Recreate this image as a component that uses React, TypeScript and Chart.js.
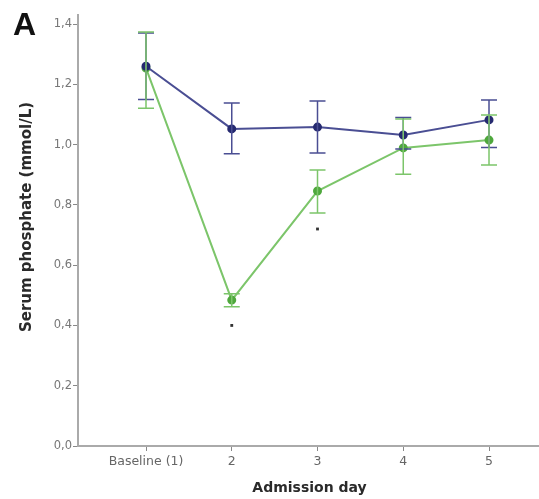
import React, { useEffect, useRef } from "react";
import { Chart, registerables } from "chart.js";

Chart.register(...registerables);

const categories = ["Baseline (1)", "2", "3", "4", "5"];
const days = [1, 2, 3, 4, 5];
const yTicks = [0, 0.2, 0.4, 0.6, 0.8, 1.0, 1.2, 1.4];

const blueMean = [1.26, 1.052, 1.058, 1.032, 1.082];
const blueLow = [1.15, 0.97, 0.972, 0.985, 0.99];
const blueHigh = [1.37, 1.138, 1.145, 1.09, 1.148];

const greenMean = [1.254, 0.484, 0.846, 0.989, 1.015];
const greenLow = [1.121, 0.462, 0.773, 0.902, 0.932];
const greenHigh = [1.374, 0.505, 0.916, 1.085, 1.098];

const sigDays = [2, 3];
const sigValues = [0.4, 0.72];

const yTitle = "Serum phosphate (mmol/L)";
const xTitle = "Admission day";

const BLUE_LINE = "#4a4e93";
const BLUE_PT = "#262a70";
const GREEN_LINE = "#7cc56a";
const GREEN_PT = "#4fa83d";

const errorBarPlugin = {
  id: "errorBars",
  afterDatasetsDraw(chart: any) {
    const { ctx, scales } = chart;
    const x = scales.x;
    const y = scales.y;
    const sets = [
      { low: blueLow, high: blueHigh, color: BLUE_LINE },
      { low: greenLow, high: greenHigh, color: GREEN_LINE },
    ];
    ctx.save();
    ctx.lineWidth = 1.5;
    sets.forEach((s) => {
      ctx.strokeStyle = s.color;
      days.forEach((d, i) => {
        const px = x.getPixelForValue(d);
        const top = y.getPixelForValue(s.high[i]);
        const bot = y.getPixelForValue(s.low[i]);
        ctx.beginPath();
        ctx.moveTo(px, top);
        ctx.lineTo(px, bot);
        ctx.moveTo(px - 8, top);
        ctx.lineTo(px + 8, top);
        ctx.moveTo(px - 8, bot);
        ctx.lineTo(px + 8, bot);
        ctx.stroke();
      });
    });
    ctx.restore();
  },
};

const titlesPlugin = {
  id: "axisTitles",
  afterDraw(chart: any) {
    const { ctx, chartArea } = chart;
    ctx.save();
    ctx.fillStyle = "#2a2a2a";
    ctx.textAlign = "center";
    ctx.textBaseline = "middle";
    ctx.font = "bold 14px 'DejaVu Sans'";
    ctx.fillText(xTitle, (chartArea.left + chartArea.right) / 2 + 1, 488);
    ctx.translate(27, 217);
    ctx.rotate(-Math.PI / 2);
    ctx.font = "bold 15px 'DejaVu Sans'";
    ctx.fillText(yTitle, 0, 0);
    ctx.restore();
  },
};

export default function App() {
  const ref = useRef<HTMLCanvasElement | null>(null);

  useEffect(() => {
    document.body.style.margin = "0";
    const canvas = ref.current;
    if (!canvas) return;
    const chart = new Chart(canvas, {
      type: "line",
      data: {
        datasets: [
          {
            label: "Group 1",
            data: days.map((d, i) => ({ x: d, y: blueMean[i] })),
            borderColor: BLUE_LINE,
            backgroundColor: BLUE_PT,
            pointBackgroundColor: BLUE_PT,
            pointBorderColor: BLUE_PT,
            pointRadius: 3.5,
            borderWidth: 2,
            tension: 0,
          },
          {
            label: "Group 2",
            data: days.map((d, i) => ({ x: d, y: greenMean[i] })),
            borderColor: GREEN_LINE,
            backgroundColor: GREEN_PT,
            pointBackgroundColor: GREEN_PT,
            pointBorderColor: GREEN_PT,
            pointRadius: 3.5,
            borderWidth: 2,
            tension: 0,
          },
          {
            label: "sig",
            data: sigDays.map((d, i) => ({ x: d, y: sigValues[i] })),
            showLine: false,
            pointStyle: "rect",
            pointRadius: 2,
            pointBackgroundColor: "#333",
            pointBorderColor: "#333",
            borderWidth: 0,
          },
        ],
      },
      options: {
        animation: false,
        responsive: true,
        maintainAspectRatio: false,
        layout: { autoPadding: false, padding: { top: 15, right: 0, left: 0, bottom: 0 } },
        plugins: {
          legend: { display: false },
          tooltip: { enabled: false },
        },
        scales: {
          x: {
            type: "linear",
            min: 0.207,
            max: 5.583,
            afterBuildTicks: (scale: any) => {
              scale.ticks = days.map((d) => ({ value: d }));
            },
            afterFit: (scale: any) => {
              scale.height = 53;
              scale.paddingLeft = 0;
              scale.paddingRight = 0;
            },
            grid: {
              display: true,
              drawOnChartArea: false,
              drawTicks: true,
              tickLength: 5,
              color: "#888",
            },
            border: { display: true, color: "#aaa", width: 2 },
            ticks: {
              color: "#666",
              font: { family: "DejaVu Sans", size: 12.5 },
              padding: 3,
              autoSkip: false,
              maxRotation: 0,
              callback: (v: any) => categories[days.indexOf(Number(v))] ?? "",
            },
          },
          y: {
            type: "linear",
            min: 0,
            max: 1.43,
            afterBuildTicks: (scale: any) => {
              scale.ticks = yTicks.map((v) => ({ value: v }));
            },
            afterFit: (scale: any) => {
              scale.width = 78;
            },
            grid: {
              display: true,
              drawOnChartArea: false,
              drawTicks: true,
              tickLength: 5,
              color: "#888",
            },
            border: { display: true, color: "#aaa", width: 2 },
            ticks: {
              color: "#777",
              font: { family: "DejaVu Sans", size: 11.5 },
              padding: 1,
              callback: (v: any) => Number(v).toFixed(1).replace(".", ","),
            },
          },
        },
      },
      plugins: [errorBarPlugin, titlesPlugin],
    });
    return () => chart.destroy();
  }, []);

  return (
    <div style={{ position: "relative", width: 539, height: 499, background: "#fff" }}>
      <canvas ref={ref} />
      <div
        style={{
          position: "absolute",
          left: 13,
          top: 4,
          fontFamily: "Liberation Sans, Arial, sans-serif",
          fontWeight: "bold",
          fontSize: 32,
          color: "#111",
          lineHeight: "40px",
        }}
      >
        A
      </div>
    </div>
  );
}
